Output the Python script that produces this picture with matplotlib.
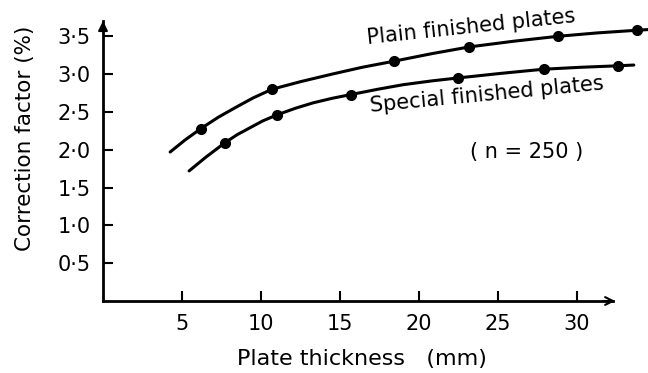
import matplotlib
matplotlib.use("Agg")
import matplotlib.pyplot as plt

# ---- data ----
plain_x = [6.2, 10.7, 18.4, 23.2, 28.8, 33.8]
plain_y = [2.28, 2.80, 3.17, 3.36, 3.50, 3.58]
special_x = [7.7, 11.0, 15.7, 22.5, 27.9, 32.6]
special_y = [2.09, 2.46, 2.73, 2.95, 3.07, 3.11]

# points (including the parts beyond the markers)
plain_curve_x = [4.25, 5.2, 6.2, 7.3, 8.4, 9.5, 10.7, 12.5, 14.5, 16.4, 18.4,
                 20.8, 23.2, 26.0, 28.8, 31.3, 33.8, 34.6]
plain_curve_y = [1.97, 2.13, 2.28, 2.43, 2.56, 2.685, 2.80, 2.90, 3.00, 3.09, 3.17,
                 3.27, 3.36, 3.435, 3.50, 3.545, 3.58, 3.59]
special_curve_x = [5.45, 6.5, 7.7, 8.5, 9.3, 10.1, 11.0, 12.2, 13.3, 14.5, 15.7,
                   17.4, 19.0, 20.8, 22.5, 25.2, 27.9, 30.2, 32.6, 33.6]
special_curve_y = [1.72, 1.90, 2.09, 2.20, 2.29, 2.38, 2.46, 2.55, 2.62, 2.68, 2.73,
                   2.80, 2.86, 2.91, 2.95, 3.01, 3.065, 3.09, 3.11, 3.12]

x_ticks = [5, 10, 15, 20, 25, 30]
x_tick_labels = ["5", "10", "15", "20", "25", "30"]
y_ticks = [0.5, 1.0, 1.5, 2.0, 2.5, 3.0, 3.5]
y_tick_labels = ["0·5", "1·0", "1·5", "2·0", "2·5", "3·0", "3·5"]

plt.rcParams["font.family"] = ["DejaVu Sans"]

fig = plt.figure(figsize=(6.48, 3.73), dpi=100)
ax = fig.add_axes([103 / 648, 72 / 373, 1 - 103 / 648, 301 / 373])
ax.set_xlim(0, 34.5)
ax.set_ylim(0, 3.98)

ax.plot(plain_curve_x, plain_curve_y, color="black", lw=2.2, solid_capstyle="round",
        solid_joinstyle="round", clip_on=False)
ax.plot(special_curve_x, special_curve_y, color="black", lw=2.2, solid_capstyle="round",
        solid_joinstyle="round", clip_on=False)
ax.plot(plain_x, plain_y, "o", color="black", ms=7, clip_on=False)
ax.plot(special_x, special_y, "o", color="black", ms=7, clip_on=False)

for s in ["top", "right"]:
    ax.spines[s].set_visible(False)
for s in ["left", "bottom"]:
    ax.spines[s].set_linewidth(2.0)
ax.spines["left"].set_bounds(0, 3.7)
ax.spines["bottom"].set_bounds(0, 32.3)

# arrow heads
ax.annotate("", xy=(0, 3.74), xytext=(0, 3.6),
            arrowprops=dict(arrowstyle="-|>", color="black", lw=1.5, mutation_scale=14))
ax.annotate("", xy=(32.6, 0), xytext=(31.5, 0),
            arrowprops=dict(arrowstyle="->", color="black", lw=1.5, mutation_scale=14))

ax.set_xticks(x_ticks)
ax.set_xticklabels(x_tick_labels)
ax.set_yticks(y_ticks)
ax.set_yticklabels(y_tick_labels)
ax.tick_params(axis="both", direction="in", length=7, width=1.5, labelsize=15, pad=9)

ax.set_xlabel("Plate thickness   (mm)", fontsize=16)
ax.xaxis.set_label_coords((362 - 103) / 545, -48 / 301)
ax.set_ylabel("Correction factor (%)", fontsize=15.5)
ax.yaxis.set_label_coords(-68 / 545, 0.54)

ax.text(23.3, 3.62, "Plain finished plates", fontsize=15, rotation=6,
        ha="center", va="center", rotation_mode="anchor")
ax.text(24.3, 2.72, "Special finished plates", fontsize=15, rotation=5.5,
        ha="center", va="center", rotation_mode="anchor")
ax.text(26.8, 1.97, "( n = 250 )", fontsize=15, ha="center", va="center")

fig.savefig("out.png", dpi=100)
